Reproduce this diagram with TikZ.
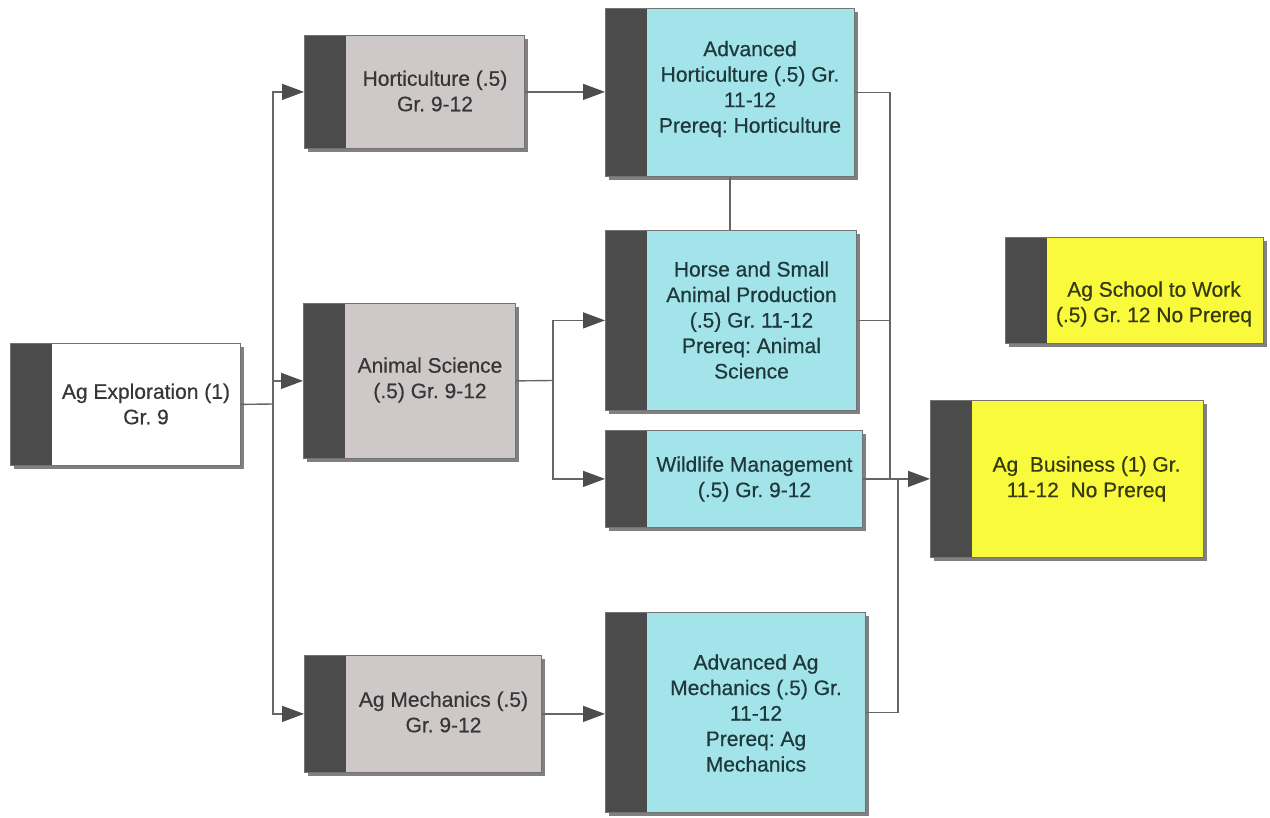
\documentclass[tikz,border=0pt]{standalone}
\usepackage{fontspec}
\setmainfont{Liberation Sans}[FakeBold=0.5]
\frenchspacing
\usetikzlibrary{arrows.meta,shadows,calc}
\definecolor{stripC}{HTML}{4B4B4B}
\definecolor{lineC}{HTML}{666666}
\definecolor{tipC}{HTML}{4D4D4D}
\definecolor{grayF}{HTML}{CEC8C8}
\definecolor{cyanF}{HTML}{A3E4EA}
\definecolor{yelF}{HTML}{FAFA3C}
\definecolor{grayT}{HTML}{363636}
\definecolor{cyanT}{HTML}{1E383C}
\definecolor{yelT}{HTML}{363A10}
\begin{document}
\begin{tikzpicture}[x=1pt,y=-1pt,
  box/.style={draw=black!55, line width=0.8pt, anchor=north west, inner sep=0pt,
    drop shadow={shadow xshift=4pt, shadow yshift=-4pt, fill=black!50, opacity=1},
    path picture={\fill[stripC] (path picture bounding box.north west) rectangle ([xshift=42pt]path picture bounding box.south west);}},
  lbl/.style={align=center, font=\fontsize{21}{25.5}\selectfont, inner sep=0pt},
  conn/.style={draw=lineC, line width=1.4pt, line join=miter},
  arr/.style={conn, -{Triangle[length=22pt,width=16pt,fill=tipC,color=tipC]}}
]
\fill[white] (0,0) rectangle (1270,818);
\useasboundingbox (0,0) rectangle (1270,818);

% boxes
\node[box, fill=white, minimum width=230pt, minimum height=122pt] (expl) at (10,343) {};
\node[box, fill=grayF, minimum width=220pt, minimum height=113pt] (hort) at (304,35) {};
\node[box, fill=grayF, minimum width=212pt, minimum height=155pt] (anim) at (303,303) {};
\node[box, fill=grayF, minimum width=237pt, minimum height=117pt] (mech) at (304,655) {};
\node[box, fill=cyanF, minimum width=249pt, minimum height=168pt] (advh) at (605,8) {};
\node[box, fill=cyanF, minimum width=251pt, minimum height=180pt] (horse) at (605,230) {};
\node[box, fill=cyanF, minimum width=257pt, minimum height=97pt] (wild) at (605,430) {};
\node[box, fill=cyanF, minimum width=260pt, minimum height=200pt] (advm) at (605,612) {};
\node[box, fill=yelF, minimum width=258pt, minimum height=106pt] (school) at (1005,237) {};
\node[box, fill=yelF, minimum width=273pt, minimum height=157pt] (bus) at (930,400) {};

% labels
\node[lbl, text=grayT] (expl-t) at (146,404) {Ag Exploration (1)\\Gr. 9};
\node[lbl, text=grayT] (hort-t) at (435,91) {Horticulture (.5)\\Gr. 9-12};
\node[lbl, text=grayT] (anim-t) at (430,380) {Animal Science\\(.5) Gr. 9-12};
\node[lbl, text=grayT] (mech-t) at (443.5,712) {Ag Mechanics (.5)\\Gr. 9-12};
\node[lbl, text=cyanT] (advh-t) at (750,89) {Advanced\\Horticulture (.5) Gr.\\11-12\\Prereq: Horticulture};
\node[lbl, text=cyanT] (horse-t) at (751.5,320) {Horse and Small\\Animal Production\\(.5) Gr. 11-12\\Prereq: Animal\\Science};
\node[lbl, text=cyanT] (wild-t) at (754.5,479) {Wildlife Management\\(.5) Gr. 9-12};
\node[lbl, text=cyanT] (advm-t) at (756,713) {Advanced Ag\\Mechanics (.5) Gr.\\11-12\\Prereq: Ag\\Mechanics};
\node[lbl, text=yelT] (school-t) at (1154,304) {Ag School to Work\\(.5) Gr. 12 No Prereq};
\node[lbl, text=yelT] (bus-t) at (1086.5,479) {Ag\ \ Business (1) Gr.\\11-12\ \ No Prereq};

% connectors
\coordinate (j1) at (273,404);
\draw[conn] (expl.east) -- (j1);
\draw[arr] (j1) |- (hort.west);
\draw[arr] (j1) |- (anim.west);
\draw[arr] (j1) |- (mech.west);
\draw[arr] (hort.east) -- (hort.east -| advh.west);
\coordinate (j2) at (553,380.5);
\draw[conn] (anim.east) -- (j2);
\draw[arr] (j2) |- (horse.west);
\draw[arr] (j2) |- (wild.west);
\draw[arr] (mech.east) -- (mech.east -| advm.west);
\draw[conn] (advh.south) -- (advh.south |- horse.north);
\coordinate (j3) at (890,478.5);
\draw[conn] (advh.east) -| (j3);
\draw[conn] (horse.east) -- (horse.east -| j3);
\draw[arr] (wild.east) -- (bus.west);
\coordinate (j4) at (898,478.5);
\draw[conn] (advm.east) -| (j4);
\end{tikzpicture}
\end{document}
